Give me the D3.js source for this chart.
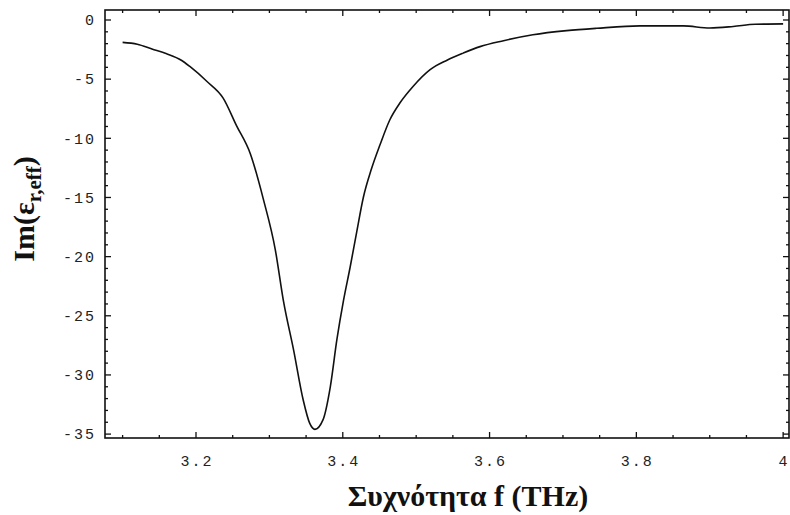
<!DOCTYPE html>
<html>
<head>
<meta charset="utf-8">
<script src="https://cdn.jsdelivr.net/npm/d3@7"></script>
<style>
  body { margin: 0; background: #fff; }
  svg { display: block; }
</style>
</head>
<body>
<div id="chart"></div>
<script>
// frequency (THz) and Im(eps_r,eff)
const freq = [3.10, 3.12, 3.14, 3.16, 3.18, 3.192, 3.215, 3.237, 3.255, 3.274, 3.292, 3.308, 3.319, 3.333, 3.346, 3.355, 3.362,
  3.373, 3.383, 3.392, 3.401, 3.41, 3.419, 3.428, 3.439, 3.451, 3.464, 3.478, 3.496, 3.519, 3.542, 3.564, 3.587, 3.619,
  3.659, 3.705, 3.746, 3.805, 3.864, 3.9, 3.932, 3.962, 4.0];
const imEps = [-1.89, -2.05, -2.45, -2.85, -3.4, -3.95, -5.2, -6.6, -8.9, -11.3, -15.2, -19.4, -23.7, -27.9, -32.1, -34.1, -34.6,
  -33.8, -31.0, -27.0, -23.7, -20.9, -17.9, -15.0, -12.6, -10.5, -8.45, -7.0, -5.6, -4.2, -3.4, -2.8, -2.25, -1.75,
  -1.25, -0.9, -0.7, -0.5, -0.5, -0.68, -0.55, -0.36, -0.33];

const xTicks = [3.2, 3.4, 3.6, 3.8, 4];
const xTickLabels = ["3.2", "3.4", "3.6", "3.8", "4"];
const yTicks = [0, -5, -10, -15, -20, -25, -30, -35];
const yTickLabels = ["0", "-5", "-10", "-15", "-20", "-25", "-30", "-35"];

const W = 790, H = 515;
const frame = { left: 105, right: 789, top: 10, bottom: 438 };

const svg = d3.select("#chart").append("svg")
  .attr("width", W)
  .attr("height", H);

const x = d3.scaleLinear().domain([3.076, 4.008]).range([frame.left, frame.right]);
const y = d3.scaleLinear().domain([0.845, -35.33]).range([frame.top, frame.bottom]);

// minor ticks
const xMinor = d3.range(3.1, 4.001, 0.05).map(v => +v.toFixed(2));
const yMinor = d3.range(0, -35.001, -1);

const tickG = svg.append("g").attr("stroke", "#111").attr("stroke-width", 1.3);

xMinor.forEach(v => {
  const major = xTicks.some(t => Math.abs(t - v) < 1e-6);
  const len = major ? 6 : 3;
  tickG.append("line").attr("x1", x(v)).attr("x2", x(v)).attr("y1", frame.bottom).attr("y2", frame.bottom - len);
  tickG.append("line").attr("x1", x(v)).attr("x2", x(v)).attr("y1", frame.top).attr("y2", frame.top + len);
});
yMinor.forEach(v => {
  const major = yTicks.some(t => Math.abs(t - v) < 1e-6);
  const len = major ? 6 : 3;
  tickG.append("line").attr("x1", frame.left).attr("x2", frame.left + len).attr("y1", y(v)).attr("y2", y(v));
  tickG.append("line").attr("x1", frame.right).attr("x2", frame.right - len).attr("y1", y(v)).attr("y2", y(v));
});

// frame
svg.append("rect")
  .attr("x", frame.left).attr("y", frame.top)
  .attr("width", frame.right - frame.left).attr("height", frame.bottom - frame.top)
  .attr("fill", "none").attr("stroke", "#111").attr("stroke-width", 1.6);

// tick labels
svg.append("g").selectAll("text")
  .data(xTicks)
  .join("text")
  .attr("x", d => x(d) + 1)
  .attr("y", 466)
  .attr("text-anchor", "middle")
  .attr("font-family", "Liberation Mono, monospace")
  .attr("font-size", 15)
  .attr("letter-spacing", 2)
  .attr("fill", "#222")
  .text((d, i) => xTickLabels[i]);

svg.append("g").selectAll("text")
  .data(yTicks)
  .join("text")
  .attr("x", 96)
  .attr("y", d => y(d))
  .attr("dy", "0.35em")
  .attr("text-anchor", "end")
  .attr("font-family", "Liberation Mono, monospace")
  .attr("font-size", 15)
  .attr("letter-spacing", 2)
  .attr("fill", "#222")
  .text((d, i) => yTickLabels[i]);

// curve
const line = d3.line()
  .x((d, i) => x(freq[i]))
  .y(d => y(d))
  .curve(d3.curveMonotoneX);

svg.append("path")
  .attr("d", line(imEps))
  .attr("fill", "none")
  .attr("stroke", "#111")
  .attr("stroke-width", 1.6);

// axis titles
svg.append("text")
  .attr("x", 468)
  .attr("y", 506)
  .attr("text-anchor", "middle")
  .attr("font-family", "Liberation Serif, serif")
  .attr("font-weight", "bold")
  .attr("font-size", 30)
  .attr("fill", "#111")
  .text("Συχνότητα f (THz)");

const yl = svg.append("text")
  .attr("transform", "translate(34,209) rotate(-90)")
  .attr("text-anchor", "middle")
  .attr("font-family", "Liberation Serif, serif")
  .attr("font-weight", "bold")
  .attr("font-size", 30)
  .attr("fill", "#111");
yl.append("tspan").text("Im(ε");
yl.append("tspan").attr("font-size", 21).attr("dy", 7).text("r,eff");
yl.append("tspan").attr("dy", -7).text(")");
</script>
</body>
</html>
